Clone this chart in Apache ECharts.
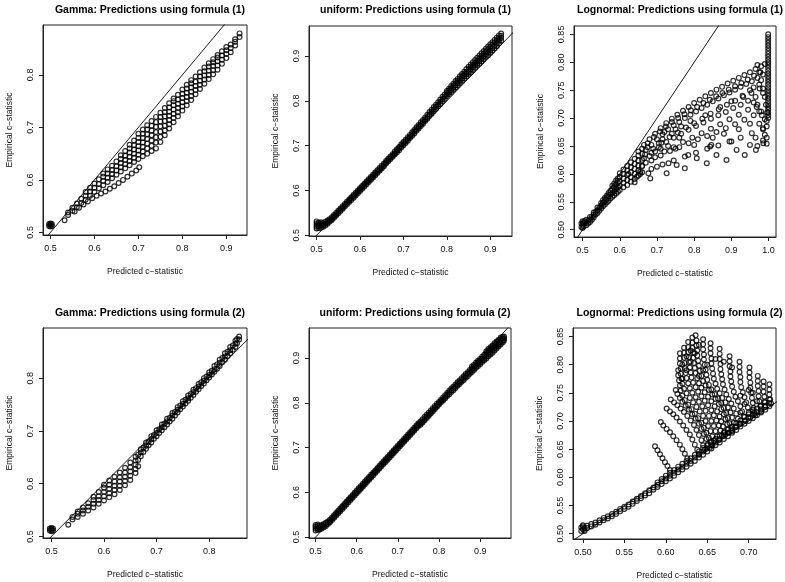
<!DOCTYPE html>
<html><head><meta charset="utf-8">
<script src="https://cdn.jsdelivr.net/npm/echarts@6/dist/echarts.min.js"></script>
<style>html,body{margin:0;padding:0;background:#fff}#c{width:785px;height:582px}</style>
</head><body><div id="c"></div>
<script>
// ---------------- tick labels ----------------
const xTicks1 = [0.5, 0.6, 0.7, 0.8, 0.9];
const yTicks1 = [0.5, 0.6, 0.7, 0.8];
const xTicks2 = [0.5, 0.6, 0.7, 0.8, 0.9];
const yTicks2 = [0.5, 0.6, 0.7, 0.8, 0.9];
const xTicks3 = [0.5, 0.6, 0.7, 0.8, 0.9, 1.0];
const yTicks3 = [0.50, 0.55, 0.60, 0.65, 0.70, 0.75, 0.80, 0.85];
const xTicks4 = [0.5, 0.6, 0.7, 0.8];
const yTicks4 = [0.5, 0.6, 0.7, 0.8];
const xTicks5 = [0.5, 0.6, 0.7, 0.8, 0.9];
const yTicks5 = [0.5, 0.6, 0.7, 0.8, 0.9];
const xTicks6 = [0.50, 0.55, 0.60, 0.65, 0.70];
const yTicks6 = [0.50, 0.55, 0.60, 0.65, 0.70, 0.75, 0.80, 0.85];

const titles = [
  "Gamma: Predictions using formula (1)",
  "uniform: Predictions using formula (1)",
  "Lognormal: Predictions using formula (1)",
  "Gamma: Predictions using formula (2)",
  "uniform: Predictions using formula (2)",
  "Lognormal: Predictions using formula (2)"
];
const xName = "Predicted c\u2212statistic";
const yName = "Empirical c\u2212statistic";
const identityLine = [0.4, 1.1];

// ---------------- Panel 1: Gamma, formula (1) ----------------
const gamma1Pts = [[0.497,0.512],[0.5,0.511],[0.503,0.512],[0.497,0.516],[0.5,0.517],[0.503,0.516],[0.5,0.514],[0.532,0.523]];
const gamma1Low = [[0.555,0.54],[0.565,0.547],[0.575,0.553],[0.585,0.559],[0.595,0.565],[0.605,0.57],[0.615,0.574],[0.625,0.578],[0.635,0.583],[0.645,0.588],[0.655,0.594],[0.665,0.6],[0.675,0.606],[0.685,0.612],[0.695,0.618],[0.702,0.624]];
const gamma1Cols = [
 [0.54,[0.533,0.538]],[0.55,[0.541,0.547]],[0.56,[0.548,0.555]],[0.57,[0.556,0.564]],
 [0.58,[0.562,0.57,0.577]],[0.59,[0.57,0.578,0.585]],[0.60,[0.577,0.585,0.593]],[0.61,[0.584,0.592,0.601]],
 [0.62,[0.59,0.598,0.606,0.612]],[0.63,[0.596,0.604,0.612,0.62]],[0.64,[0.603,0.611,0.619,0.627]],[0.65,[0.61,0.618,0.626,0.635]],
 [0.66,[0.616,0.624,0.632,0.64,0.647]],[0.67,[0.622,0.63,0.638,0.646,0.655]],[0.68,[0.628,0.636,0.644,0.652,0.66,0.667]],
 [0.69,[0.634,0.642,0.65,0.658,0.666,0.675]],[0.70,[0.64,0.648,0.656,0.664,0.672,0.68,0.688]],
 [0.71,[0.645,0.654,0.663,0.671,0.68,0.688,0.696]],[0.72,[0.65,0.66,0.669,0.678,0.687,0.696,0.704]],
 [0.73,[0.655,0.665,0.675,0.685,0.694,0.703,0.712]],[0.74,[0.66,0.671,0.681,0.691,0.701,0.71,0.72]],
 [0.75,[0.672,0.682,0.692,0.702,0.711,0.72,0.728]],[0.76,[0.685,0.694,0.703,0.712,0.721,0.729,0.737]],
 [0.77,[0.698,0.706,0.714,0.722,0.73,0.738,0.746]],[0.78,[0.71,0.718,0.726,0.734,0.742,0.75,0.755]],
 [0.79,[0.721,0.729,0.737,0.745,0.753,0.762]],[0.80,[0.732,0.74,0.748,0.756,0.764,0.772]],
 [0.81,[0.742,0.75,0.758,0.766,0.774,0.781]],[0.82,[0.752,0.76,0.768,0.776,0.784,0.79]],
 [0.83,[0.763,0.771,0.779,0.787,0.797]],[0.84,[0.773,0.781,0.789,0.797,0.805]],[0.85,[0.783,0.791,0.799,0.807,0.814]],
 [0.86,[0.792,0.8,0.808,0.816,0.822]],[0.87,[0.801,0.809,0.817,0.824,0.83]],[0.88,[0.81,0.818,0.826,0.833,0.838]],
 [0.89,[0.821,0.829,0.837,0.845]],[0.90,[0.832,0.84,0.847,0.853]],[0.91,[0.843,0.851,0.858]],
 [0.92,[0.856,0.863,0.868]],[0.93,[0.872,0.879]]
];

// ---------------- Panel 2: uniform, formula (1) ----------------
const uniform1Cols = [
 [0.500,[0.515,0.519,0.523,0.527,0.531]],[0.505,[0.516,0.52,0.524,0.528]],[0.510,[0.517,0.521,0.525,0.529]],
 [0.515,[0.519,0.523,0.527]],[0.520,[0.522,0.526,0.53]],[0.525,[0.526,0.529,0.533]],[0.530,[0.53,0.533,0.536]],
 [0.535,[0.534,0.537,0.54]],[0.540,[0.539,0.542,0.545]],[0.545,[0.544,0.547,0.55]],[0.550,[0.549,0.552,0.555]],
 [0.555,[0.554,0.557,0.56]],[0.560,[0.559,0.562,0.565]],[0.565,[0.564,0.567,0.57]],[0.570,[0.569,0.572,0.575]],
 [0.575,[0.574,0.577,0.58]],[0.580,[0.579,0.582,0.585]],[0.585,[0.584,0.587,0.59]],[0.590,[0.589,0.592,0.595]],
 [0.595,[0.594,0.597,0.6]],[0.600,[0.599,0.602,0.605]],[0.605,[0.604,0.607,0.61]],[0.610,[0.609,0.612,0.615]],
 [0.615,[0.614,0.617,0.62]],[0.620,[0.619,0.622,0.625]],[0.625,[0.624,0.627,0.63]],[0.630,[0.629,0.632,0.635]],
 [0.635,[0.634,0.637,0.64]],[0.640,[0.639,0.642,0.645]],[0.645,[0.644,0.647,0.65]],[0.650,[0.649,0.652,0.655]],
 [0.655,[0.654,0.657,0.66]],[0.660,[0.66,0.663,0.666]],[0.665,[0.665,0.668,0.671]],[0.670,[0.67,0.673,0.676]],
 [0.675,[0.675,0.678,0.681]],[0.680,[0.68,0.683,0.687]],[0.685,[0.685,0.689,0.692]],[0.690,[0.69,0.694,0.697]],
 [0.695,[0.696,0.699,0.703]],[0.700,[0.701,0.704,0.708]],[0.705,[0.706,0.71,0.713]],[0.710,[0.711,0.715,0.719]],
 [0.715,[0.717,0.72,0.724]],[0.720,[0.722,0.726,0.73]],[0.725,[0.727,0.731,0.735]],[0.730,[0.733,0.737,0.741]],
 [0.735,[0.738,0.742,0.746]],[0.740,[0.744,0.748,0.752]],[0.745,[0.749,0.753,0.757]],[0.750,[0.755,0.759,0.763]],
 [0.755,[0.76,0.764,0.769]],[0.760,[0.766,0.77,0.775]],[0.765,[0.771,0.775,0.78]],[0.770,[0.777,0.781,0.786]],
 [0.775,[0.782,0.786,0.791]],[0.780,[0.788,0.792,0.797]],[0.785,[0.793,0.798,0.803]],[0.790,[0.799,0.804,0.809]],
 [0.795,[0.804,0.809,0.814]],[0.800,[0.81,0.814,0.818,0.822]],[0.805,[0.815,0.819,0.823,0.827]],
 [0.810,[0.82,0.824,0.828,0.833]],[0.815,[0.825,0.829,0.833,0.838]],[0.820,[0.83,0.835,0.839,0.844]],
 [0.825,[0.835,0.84,0.844,0.849]],[0.830,[0.84,0.845,0.85,0.855]],[0.835,[0.845,0.85,0.855,0.86]],
 [0.840,[0.85,0.855,0.86,0.865]],[0.845,[0.855,0.86,0.865,0.871]],[0.850,[0.86,0.865,0.87,0.876]],
 [0.855,[0.864,0.87,0.875,0.881]],[0.860,[0.869,0.875,0.88,0.886]],[0.865,[0.874,0.88,0.885,0.891]],
 [0.870,[0.879,0.884,0.89,0.896]],[0.875,[0.883,0.889,0.895,0.901]],[0.880,[0.888,0.894,0.9,0.906]],
 [0.885,[0.893,0.899,0.905,0.911]],[0.890,[0.898,0.904,0.91,0.916]],[0.895,[0.902,0.908,0.915,0.921]],
 [0.900,[0.907,0.913,0.92,0.926]],[0.905,[0.912,0.918,0.925,0.931]],[0.910,[0.917,0.923,0.93,0.936]],
 [0.915,[0.922,0.928,0.935,0.941]],[0.920,[0.928,0.934,0.94,0.946]],[0.925,[0.934,0.94,0.945,0.95]]
];

// ---------------- Panel 3: Lognormal, formula (1) ----------------
const logn1Blob = [[0.497,0.505],[0.5,0.503],[0.503,0.506],[0.497,0.511],[0.5,0.509],[0.503,0.512],[0.5,0.515],[0.505,0.515]];
const logn1Cols = [
 [0.51,[0.508,0.513,0.518]],[0.515,[0.511,0.516]],[0.52,[0.514,0.519,0.523]],[0.525,[0.518,0.523]],
 [0.53,[0.522,0.527,0.531]],[0.535,[0.527,0.532]],[0.54,[0.53,0.535,0.54]],[0.545,[0.534,0.54]],
 [0.55,[0.538,0.543,0.548]],[0.555,[0.542,0.548,0.553]],[0.56,[0.545,0.551,0.557]],[0.565,[0.549,0.555,0.561]],
 [0.57,[0.552,0.559,0.566]],[0.575,[0.556,0.563,0.57]],[0.58,[0.559,0.566,0.573,0.579]],[0.585,[0.562,0.569,0.576,0.583]],
 [0.59,[0.565,0.573,0.58,0.588]],[0.595,[0.568,0.576,0.584,0.592]],[0.60,[0.571,0.579,0.587,0.595,0.601]],
 [0.61,[0.576,0.584,0.592,0.6,0.608]],[0.62,[0.58,0.589,0.598,0.606,0.614]],[0.63,[0.586,0.594,0.603,0.612,0.621]],
 [0.64,[0.591,0.6,0.609,0.618,0.627]],[0.65,[0.597,0.606,0.615,0.624,0.633,0.64]],[0.66,[0.603,0.614,0.625,0.636,0.645]]
];
const logn1Strands = [
 [0.665,0.652],[0.68,0.662],[0.695,0.672],[0.71,0.682],[0.725,0.691],[0.74,0.699],[0.755,0.706],[0.77,0.713],[0.785,0.72],[0.8,0.727],[0.815,0.733],[0.83,0.739],[0.845,0.745],[0.86,0.751],[0.875,0.756],[0.89,0.762],[0.905,0.767],[0.92,0.772],[0.935,0.777],[0.95,0.782],[0.965,0.788],[0.98,0.793],[0.99,0.797],
 [0.675,0.655],[0.692,0.666],[0.708,0.676],[0.724,0.685],[0.74,0.693],[0.757,0.7],[0.774,0.707],[0.791,0.714],[0.808,0.72],[0.825,0.727],[0.842,0.733],[0.859,0.739],[0.876,0.745],[0.893,0.751],[0.91,0.757],[0.927,0.763],[0.944,0.769],[0.961,0.776],[0.978,0.782],
 [0.67,0.643],[0.685,0.652],[0.70,0.662],[0.715,0.671],[0.73,0.68],[0.745,0.687],[0.76,0.693],[0.775,0.7],[0.79,0.706],[0.805,0.712],[0.82,0.718],[0.835,0.724],[0.85,0.73],[0.865,0.735],[0.88,0.741],[0.895,0.746],[0.91,0.751],[0.925,0.756],[0.94,0.761],[0.955,0.766],[0.97,0.772],[0.985,0.778],
 [0.668,0.635],[0.69,0.645],[0.712,0.656],[0.734,0.666],[0.756,0.674],[0.778,0.683],[0.8,0.691],[0.822,0.699],[0.844,0.708],[0.866,0.716],[0.888,0.724],[0.91,0.731],[0.932,0.738],[0.954,0.745],[0.976,0.753],
 [0.665,0.628],[0.685,0.638],[0.705,0.648],[0.725,0.657],[0.745,0.665],[0.765,0.672],[0.785,0.679],[0.805,0.686],[0.825,0.692],[0.845,0.699],[0.865,0.705],[0.885,0.711],[0.905,0.718],[0.925,0.724],[0.945,0.731],[0.965,0.738],[0.985,0.745],
 [0.67,0.62],[0.695,0.63],[0.72,0.64],[0.745,0.648],[0.77,0.657],[0.795,0.665],[0.82,0.673],[0.845,0.681],[0.87,0.689],[0.895,0.698],[0.92,0.706],[0.945,0.715],[0.97,0.724],
 [0.66,0.614],[0.685,0.624],[0.71,0.633],[0.735,0.641],[0.76,0.648],[0.785,0.655],[0.81,0.662],[0.835,0.668],[0.86,0.675],[0.885,0.682],[0.91,0.689],[0.935,0.697],[0.96,0.705],[0.98,0.712],
 [0.655,0.6],[0.685,0.609],[0.715,0.617],[0.745,0.624],[0.775,0.631],[0.805,0.638],[0.835,0.645],[0.865,0.651],[0.895,0.658],[0.925,0.665],[0.955,0.673],[0.985,0.68],
 [0.64,0.585],[0.682,0.592],[0.726,0.601],[0.775,0.61],[0.834,0.619],[0.887,0.625],[0.936,0.634],[0.966,0.643],[0.995,0.654]
];
const logn1Scatter = [
 [0.623,0.6],[0.646,0.595],[0.655,0.604],[0.677,0.601],[0.70,0.613],[0.731,0.619],[0.753,0.616],[0.784,0.634],
 [0.807,0.628],[0.843,0.649],[0.846,0.652],[0.86,0.634],[0.90,0.658],[0.914,0.643],[0.95,0.652],[0.986,0.655],
 [0.99,0.67],[0.995,0.685],[0.72,0.675],[0.75,0.68],[0.79,0.695],[0.83,0.705],[0.87,0.72],[0.9,0.73],[0.93,0.74],
 [0.95,0.75],[0.96,0.755],[0.975,0.76],[0.75,0.645],[0.8,0.652],[0.85,0.665],[0.88,0.672],[0.92,0.68],[0.95,0.69],
 [0.97,0.795],[0.975,0.782],[0.98,0.768],[0.985,0.753],[0.99,0.738],[0.993,0.724],[0.996,0.71],[0.96,0.728],
 [0.968,0.72],[0.975,0.712],[0.982,0.705],[0.99,0.698],[0.995,0.695],[0.975,0.69],[0.985,0.682],[0.965,0.665],
 [0.97,0.65],[0.985,0.66],[0.995,0.665],[0.675,0.648],[0.68,0.632],[0.695,0.64],[0.705,0.655],[0.715,0.662],
 [0.71,0.645],[0.73,0.65],[0.74,0.672],[0.76,0.665],[0.765,0.685]
];
const logn1Bar = [[0.999,[0.70,0.705,0.71,0.715,0.72,0.725,0.73,0.735,0.74,0.745,0.75,0.755,0.76,0.765,0.77,0.775,0.78,0.785,0.79,0.795,0.80,0.805,0.81,0.815,0.82,0.825,0.83,0.835,0.84,0.845,0.85]]];

// ---------------- Panel 4: Gamma, formula (2) ----------------
const gamma2Pts = [[0.497,0.511],[0.5,0.51],[0.503,0.511],[0.497,0.515],[0.5,0.516],[0.503,0.515],[0.5,0.513],[0.532,0.522]];
const gamma2Cols = [
 [0.54,[0.532,0.537]],[0.55,[0.537,0.543,0.547]],[0.56,[0.543,0.549,0.555]],[0.57,[0.549,0.556,0.563]],
 [0.58,[0.555,0.562,0.569,0.575]],[0.59,[0.562,0.569,0.576,0.584]],[0.60,[0.568,0.576,0.584,0.592,0.598]],
 [0.61,[0.574,0.582,0.59,0.598,0.606]],[0.62,[0.58,0.588,0.596,0.604,0.613]],[0.63,[0.588,0.596,0.604,0.612,0.621]],
 [0.64,[0.597,0.605,0.613,0.621,0.63]],[0.65,[0.607,0.615,0.623,0.631,0.64]],[0.66,[0.62,0.628,0.636,0.644,0.651]],
 [0.665,[0.633,0.645,0.655]],
 [0.67,[0.652,0.659,0.665]],[0.675,[0.66,0.668]],[0.68,[0.666,0.672,0.678]],[0.685,[0.673,0.68]],
 [0.69,[0.678,0.684,0.69]],[0.695,[0.685,0.692]],[0.70,[0.69,0.696,0.701]],[0.705,[0.696,0.703]],
 [0.71,[0.701,0.707,0.712]],[0.715,[0.707,0.714]],[0.72,[0.712,0.718,0.723]],[0.725,[0.718,0.725]],
 [0.73,[0.723,0.729,0.734]],[0.735,[0.729,0.736]],[0.74,[0.735,0.74,0.745]],[0.745,[0.741,0.748]],
 [0.75,[0.746,0.751,0.756]],[0.755,[0.752,0.759]],[0.76,[0.757,0.762,0.767]],[0.765,[0.763,0.77]],
 [0.77,[0.768,0.773,0.778]],[0.775,[0.774,0.781]],[0.78,[0.779,0.784,0.789]],[0.785,[0.785,0.792]],
 [0.79,[0.79,0.795,0.8]],[0.795,[0.796,0.803]],[0.80,[0.801,0.806,0.811]],[0.805,[0.807,0.814]],
 [0.81,[0.812,0.817,0.823]],[0.815,[0.818,0.826]],[0.82,[0.823,0.829,0.835]],[0.825,[0.83,0.838]],
 [0.83,[0.835,0.841,0.847]],[0.835,[0.842,0.85]],[0.84,[0.847,0.853,0.859]],[0.845,[0.854,0.862]],
 [0.85,[0.859,0.865,0.871]],[0.853,[0.866,0.874]],[0.857,[0.873,0.879]]
];

// ---------------- Panel 5: uniform, formula (2) ----------------
const uniform2Cols = [
 [0.500,[0.515,0.519,0.523,0.527]],[0.505,[0.516,0.52,0.524,0.528]],[0.510,[0.517,0.521,0.525]],[0.515,[0.519,0.523,0.527]],
 [0.520,[0.522,0.526,0.529]],[0.525,[0.525,0.528,0.532]],[0.530,[0.529,0.532,0.535]],[0.535,[0.533,0.536,0.539]],
 [0.540,[0.538,0.541,0.544]],[0.545,[0.543,0.546,0.549]],[0.550,[0.548,0.551,0.554]],[0.555,[0.553,0.556,0.559]],
 [0.560,[0.558,0.561,0.564]],[0.565,[0.563,0.566,0.569]],[0.570,[0.568,0.571,0.574]],[0.575,[0.573,0.576,0.579]],
 [0.580,[0.578,0.581,0.584]],[0.585,[0.583,0.586,0.589]],[0.590,[0.588,0.591,0.594]],[0.595,[0.593,0.596,0.599]],
 [0.600,[0.598,0.601,0.604]],[0.605,[0.603,0.606,0.609]],[0.610,[0.608,0.611,0.614]],[0.615,[0.613,0.616,0.619]],
 [0.620,[0.618,0.621,0.624]],[0.625,[0.623,0.626,0.629]],[0.630,[0.628,0.631,0.634]],[0.635,[0.633,0.636,0.639]],
 [0.640,[0.638,0.641,0.644]],[0.645,[0.643,0.646,0.649]],[0.650,[0.648,0.651,0.654]],[0.655,[0.653,0.656,0.659]],
 [0.660,[0.658,0.661,0.664]],[0.665,[0.663,0.666,0.669]],[0.670,[0.668,0.671,0.674]],[0.675,[0.673,0.676,0.679]],
 [0.680,[0.678,0.681,0.684]],[0.685,[0.683,0.686,0.689]],[0.690,[0.688,0.691,0.694]],[0.695,[0.693,0.696,0.699]],
 [0.700,[0.698,0.701,0.704]],[0.705,[0.703,0.706,0.709]],[0.710,[0.708,0.711,0.714]],[0.715,[0.713,0.716,0.719]],
 [0.720,[0.718,0.721,0.724]],[0.725,[0.723,0.726,0.729]],[0.730,[0.728,0.731,0.734]],[0.735,[0.733,0.736,0.739]],
 [0.740,[0.738,0.741,0.744]],[0.745,[0.743,0.746,0.749]],[0.750,[0.748,0.751,0.754]],[0.755,[0.751,0.754,0.758]],
 [0.760,[0.756,0.759,0.763]],[0.765,[0.761,0.764,0.768]],[0.770,[0.766,0.769,0.773]],[0.775,[0.771,0.774,0.778]],
 [0.780,[0.776,0.779,0.783]],[0.785,[0.781,0.784,0.788]],[0.790,[0.786,0.789,0.793]],[0.795,[0.791,0.794,0.798]],
 [0.800,[0.796,0.799,0.802]],[0.805,[0.801,0.804,0.807]],[0.810,[0.805,0.808,0.812]],[0.815,[0.81,0.813,0.817]],
 [0.820,[0.815,0.818,0.822]],[0.825,[0.819,0.823,0.827]],[0.830,[0.824,0.828,0.832]],[0.835,[0.828,0.832,0.836]],
 [0.840,[0.833,0.837,0.841]],[0.845,[0.838,0.842,0.846]],[0.850,[0.842,0.846,0.85]],[0.855,[0.847,0.851,0.855]],
 [0.860,[0.851,0.855,0.859]],[0.865,[0.856,0.86,0.864]],[0.870,[0.86,0.864,0.868]],[0.875,[0.865,0.869,0.873]],
 [0.880,[0.869,0.873,0.877,0.881]],[0.885,[0.873,0.877,0.881,0.885]],[0.890,[0.878,0.882,0.886,0.89]],
 [0.895,[0.882,0.886,0.89,0.894]],[0.900,[0.886,0.89,0.894,0.898]],[0.905,[0.891,0.895,0.899,0.903]],
 [0.910,[0.895,0.899,0.903,0.907]],[0.915,[0.899,0.903,0.907,0.911,0.915]],[0.920,[0.904,0.908,0.912,0.916,0.92]],
 [0.925,[0.908,0.912,0.916,0.92,0.924]],[0.930,[0.912,0.916,0.92,0.924,0.928]],[0.935,[0.917,0.921,0.925,0.929,0.933]],
 [0.940,[0.921,0.925,0.929,0.933,0.937]],[0.945,[0.926,0.93,0.934,0.938,0.941]],[0.950,[0.93,0.934,0.938,0.942,0.946]],
 [0.955,[0.935,0.939,0.943,0.947]],[0.958,[0.939,0.944,0.948]]
];

// ---------------- Panel 6: Lognormal, formula (2) ----------------
const logn2Blob = [[0.498,0.505],[0.5,0.508],[0.502,0.505],[0.498,0.511],[0.5,0.513],[0.502,0.51],[0.5,0.515]];
const logn2Cols = [
 [0.505,[0.51,0.514]],[0.51,[0.513,0.517]],[0.515,[0.516,0.52]],[0.52,[0.52,0.524]],[0.525,[0.524,0.528]],
 [0.53,[0.527,0.531]],[0.535,[0.531,0.535]],[0.54,[0.535,0.539]],[0.545,[0.54,0.544]],[0.55,[0.544,0.548]],
 [0.555,[0.548,0.552]],[0.56,[0.553,0.557]],[0.565,[0.558,0.562]],[0.57,[0.563,0.567]],[0.575,[0.568,0.572]],
 [0.58,[0.572,0.577]],[0.585,[0.578,0.582]],[0.59,[0.583,0.587,0.591]],[0.595,[0.588,0.593,0.597]],[0.60,[0.593,0.598,0.603]],
 [0.605,[0.598,0.603,0.608]],[0.61,[0.603,0.608,0.613]],[0.615,[0.609,0.614,0.619]],[0.62,[0.614,0.619,0.624]],[0.625,[0.619,0.624,0.629]],
 [0.63,[0.624,0.629,0.634]],[0.635,[0.629,0.635,0.64]],[0.64,[0.635,0.64,0.646]],[0.645,[0.64,0.646,0.652]],[0.65,[0.646,0.651,0.657]],
 [0.655,[0.651,0.657,0.663]],[0.66,[0.657,0.662,0.668]],[0.665,[0.662,0.668,0.674]],[0.67,[0.668,0.673,0.679]],[0.675,[0.673,0.679,0.685]],
 [0.68,[0.679,0.684,0.69]],[0.685,[0.684,0.69,0.696]],[0.69,[0.69,0.695,0.701]],[0.695,[0.695,0.701,0.707]],[0.70,[0.70,0.706,0.712]],
 [0.705,[0.705,0.711,0.717]],[0.71,[0.71,0.716,0.722]],[0.715,[0.715,0.721,0.727]],[0.72,[0.72,0.727,0.733]],[0.725,[0.726,0.732,0.738]]
];
const logn2Strands = [
 [0.587,0.655],[0.59,0.648],[0.593,0.641],[0.596,0.634],[0.599,0.627],[0.602,0.62],[0.605,0.613],
 [0.594,0.698],[0.597,0.692],[0.601,0.686],[0.605,0.68],[0.609,0.673],[0.613,0.666],[0.617,0.658],[0.62,0.65],[0.623,0.642],[0.626,0.634],
 [0.601,0.722],[0.605,0.717],[0.609,0.712],[0.613,0.706],[0.617,0.699],[0.621,0.692],[0.625,0.684],[0.629,0.676],[0.632,0.667],[0.635,0.658],[0.638,0.649],[0.64,0.641],
 [0.606,0.738],[0.61,0.733],[0.614,0.728],[0.618,0.722],[0.622,0.716],[0.626,0.709],[0.63,0.701],[0.634,0.693],[0.637,0.684],[0.64,0.675],[0.643,0.666],[0.645,0.657],[0.647,0.649],
 [0.612,0.755],[0.614,0.748],[0.617,0.741],[0.62,0.734],[0.624,0.727],[0.628,0.72],[0.632,0.712],[0.636,0.704],[0.64,0.695],[0.643,0.686],[0.646,0.677],[0.649,0.668],[0.651,0.659],[0.653,0.652],
 [0.615,0.79],[0.615,0.781],[0.616,0.772],[0.617,0.763],[0.618,0.754],[0.62,0.745],[0.623,0.737],[0.627,0.729],[0.631,0.721],[0.635,0.713],[0.639,0.705],[0.643,0.697],[0.646,0.688],[0.649,0.679],[0.652,0.67],[0.654,0.662],[0.656,0.656],
 [0.617,0.82],[0.617,0.811],[0.617,0.802],[0.618,0.793],[0.618,0.784],[0.619,0.775],[0.62,0.766],[0.622,0.757],[0.625,0.749],[0.629,0.741],[0.633,0.733],[0.637,0.725],[0.641,0.717],[0.645,0.709],[0.648,0.7],[0.651,0.691],[0.654,0.682],[0.656,0.673],[0.658,0.665],
 [0.622,0.83],[0.622,0.821],[0.622,0.812],[0.623,0.803],[0.623,0.794],[0.624,0.785],[0.625,0.776],[0.627,0.767],[0.629,0.758],[0.632,0.75],[0.636,0.742],[0.64,0.734],[0.644,0.726],[0.648,0.718],[0.652,0.709],[0.655,0.7],[0.658,0.691],[0.66,0.682],[0.662,0.673],[0.664,0.666],
 [0.627,0.84],[0.627,0.831],[0.627,0.822],[0.628,0.813],[0.628,0.804],[0.629,0.795],[0.63,0.786],[0.631,0.777],[0.633,0.768],[0.636,0.76],[0.639,0.752],[0.643,0.744],[0.647,0.736],[0.651,0.728],[0.655,0.719],[0.658,0.71],[0.661,0.701],[0.664,0.692],[0.666,0.683],[0.668,0.674],
 [0.632,0.848],[0.632,0.839],[0.632,0.83],[0.633,0.821],[0.633,0.812],[0.634,0.803],[0.635,0.794],[0.636,0.785],[0.638,0.776],[0.64,0.767],[0.643,0.759],[0.647,0.751],[0.651,0.743],[0.655,0.735],[0.659,0.726],[0.662,0.717],[0.665,0.708],[0.667,0.699],[0.669,0.69],[0.671,0.681],[0.672,0.676],
 [0.636,0.852],[0.637,0.843],[0.637,0.834],[0.638,0.825],[0.638,0.816],[0.639,0.807],[0.64,0.798],[0.641,0.789],[0.643,0.78],[0.645,0.771],[0.648,0.763],[0.652,0.755],[0.656,0.747],[0.66,0.739],[0.664,0.73],[0.667,0.721],[0.67,0.712],[0.672,0.703],[0.674,0.694],[0.675,0.685],[0.676,0.679],
 [0.645,0.845],[0.645,0.836],[0.645,0.827],[0.646,0.818],[0.646,0.809],[0.647,0.8],[0.648,0.791],[0.649,0.782],[0.65,0.773],[0.652,0.764],[0.655,0.756],[0.659,0.748],[0.663,0.74],[0.667,0.732],[0.67,0.723],[0.673,0.714],[0.675,0.705],[0.677,0.696],[0.679,0.687],[0.68,0.682],
 [0.654,0.838],[0.654,0.829],[0.654,0.82],[0.655,0.811],[0.655,0.802],[0.656,0.793],[0.657,0.784],[0.658,0.775],[0.66,0.766],[0.662,0.757],[0.665,0.749],[0.668,0.741],[0.672,0.733],[0.675,0.724],[0.678,0.715],[0.68,0.706],[0.682,0.697],[0.684,0.689],
 [0.665,0.828],[0.665,0.819],[0.665,0.81],[0.666,0.801],[0.666,0.792],[0.667,0.783],[0.668,0.774],[0.669,0.765],[0.671,0.756],[0.673,0.747],[0.676,0.739],[0.679,0.731],[0.682,0.722],[0.685,0.713],[0.687,0.704],[0.689,0.695],
 [0.677,0.815],[0.677,0.806],[0.677,0.797],[0.678,0.788],[0.678,0.779],[0.679,0.77],[0.68,0.761],[0.682,0.752],[0.684,0.743],[0.687,0.735],[0.69,0.726],[0.692,0.717],[0.694,0.708],[0.696,0.7],
 [0.689,0.805],[0.689,0.796],[0.689,0.787],[0.69,0.778],[0.69,0.769],[0.691,0.76],[0.693,0.751],[0.695,0.742],[0.697,0.733],[0.699,0.724],[0.7,0.715],[0.702,0.706],
 [0.701,0.795],[0.701,0.786],[0.701,0.777],[0.702,0.768],[0.702,0.759],[0.703,0.75],[0.704,0.741],[0.705,0.732],[0.706,0.723],[0.707,0.714],[0.708,0.71],
 [0.711,0.78],[0.711,0.771],[0.711,0.762],[0.712,0.753],[0.712,0.744],[0.713,0.735],[0.714,0.726],[0.715,0.717],
 [0.718,0.77],[0.718,0.761],[0.718,0.752],[0.719,0.743],[0.719,0.734],[0.72,0.725],
 [0.725,0.765],[0.725,0.756],[0.725,0.747],[0.726,0.738],[0.727,0.731],
 [0.62,0.80],[0.625,0.815],[0.63,0.825],[0.62,0.775],[0.625,0.79],[0.63,0.805],[0.635,0.82],[0.64,0.835],
 [0.64,0.78],[0.645,0.79],[0.65,0.8],[0.66,0.81],[0.67,0.805],[0.68,0.795],[0.69,0.745],[0.7,0.755],[0.705,0.75],
 [0.71,0.735],[0.695,0.73],[0.69,0.715],[0.705,0.72]
];

// ---------------- build ----------------
function cols(list){ const out=[]; list.forEach(function(c){ c[1].forEach(function(y){ out.push([c[0], y]); }); }); return out; }

const panelData = [
  gamma1Pts.concat(gamma1Low, cols(gamma1Cols)),
  cols(uniform1Cols),
  logn1Blob.concat(cols(logn1Cols), logn1Strands, logn1Scatter, cols(logn1Bar)),
  gamma2Pts.concat(cols(gamma2Cols)),
  cols(uniform2Cols),
  logn2Blob.concat(cols(logn2Cols), logn2Strands)
];
const panelXTicks = [xTicks1, xTicks2, xTicks3, xTicks4, xTicks5, xTicks6];
const panelYTicks = [yTicks1, yTicks2, yTicks3, yTicks4, yTicks5, yTicks6];
const xDec = [1,1,1,1,1,2];
const yDec = [1,1,2,1,1,2];

// layout (pixels) and axis ranges
const layout = [
  {left:43,  top:25,  width:204, height:210, x:[0.483,0.947], y:[0.495,0.895]},
  {left:309, top:26,  width:203, height:210, x:[0.4825,0.950], y:[0.4984,0.967]},
  {left:574, top:26,  width:202, height:211, x:[0.477,1.020], y:[0.487,0.865]},
  {left:43,  top:328, width:204, height:210, x:[0.484,0.872], y:[0.497,0.895]},
  {left:309, top:328, width:202, height:210, x:[0.484,0.975], y:[0.498,0.967]},
  {left:573, top:328, width:203, height:211, x:[0.488,0.733], y:[0.4906,0.865]}
];
const FONT = '"Liberation Sans", Arial, Helvetica, sans-serif';

const grids=[], xAxes=[], yAxes=[], series=[], titleArr=[];
layout.forEach(function(L, i){
  grids.push({left:L.left, top:L.top, width:L.width, height:L.height, show:true, borderColor:'#222', borderWidth:1, backgroundColor:'transparent', containLabel:false});
  xAxes.push({
    gridIndex:i, type:'value', min:L.x[0], max:L.x[1],
    axisLine:{show:true, onZero:false, lineStyle:{color:'#222', width:1}},
    axisTick:{show:true, inside:false, length:4, customValues:panelXTicks[i], lineStyle:{color:'#222', width:1}},
    axisLabel:{show:true, customValues:panelXTicks[i], margin:9, fontSize:9, color:'#111', fontFamily:FONT,
      formatter:(function(d){return function(v){return Number(v).toFixed(d);};})(xDec[i])},
    splitLine:{show:false},
    name:xName, nameLocation:'middle', nameGap:32, nameTextStyle:{fontSize:8.5, color:'#111', fontFamily:FONT}
  });
  yAxes.push({
    gridIndex:i, type:'value', min:L.y[0], max:L.y[1],
    axisLine:{show:true, onZero:false, lineStyle:{color:'#222', width:1}},
    axisTick:{show:true, inside:false, length:4, customValues:panelYTicks[i], lineStyle:{color:'#222', width:1}},
    axisLabel:{show:true, customValues:panelYTicks[i], rotate:90, margin:8, fontSize:9, color:'#111', fontFamily:FONT,
      formatter:(function(d){return function(v){return Number(v).toFixed(d);};})(yDec[i])},
    splitLine:{show:false},
    name:yName, nameLocation:'middle', nameGap:29, nameTextStyle:{fontSize:8.5, color:'#111', fontFamily:FONT}
  });
  series.push({
    type:'scatter', xAxisIndex:i, yAxisIndex:i, data:panelData[i], symbol:'circle', symbolSize:4.8,
    itemStyle:{color:'rgba(0,0,0,0)', borderColor:'#000', borderWidth:1.2}, silent:true, animation:false
  });
  series.push({
    type:'line', xAxisIndex:i, yAxisIndex:i, data:[[identityLine[0],identityLine[0]],[identityLine[1],identityLine[1]]],
    symbol:'none', clip:true, lineStyle:{color:'#000', width:0.9}, silent:true, animation:false
  });
  titleArr.push({text:titles[i], left:L.left + L.width/2, top:(i<3?0:303), textAlign:'center',
    textStyle:{fontSize:10.5, fontWeight:'bold', color:'#000', fontFamily:FONT}});
});

const chart = echarts.init(document.getElementById('c'), null, {renderer:'canvas'});
chart.setOption({animation:false, backgroundColor:'#fff', title:titleArr, grid:grids, xAxis:xAxes, yAxis:yAxes, series:series});
</script></body></html>
